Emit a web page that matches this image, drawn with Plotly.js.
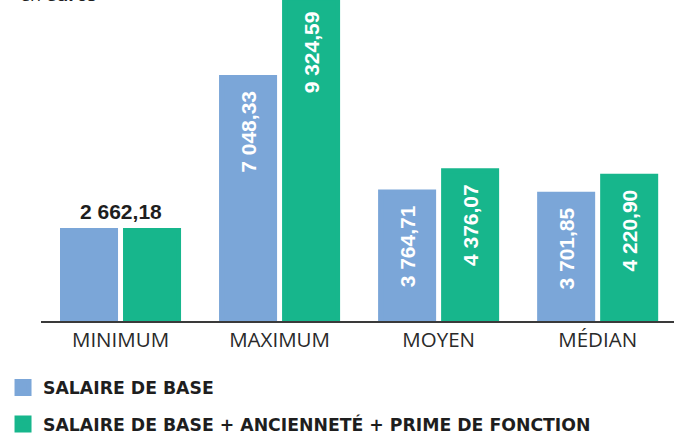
<!DOCTYPE html>
<html>
<head>
<meta charset="utf-8">
<script src="https://cdn.plot.ly/plotly-3.0.1.min.js"></script>
<style>
html,body{margin:0;padding:0;background:#fff;}
#chart{width:674px;height:434px;}
</style>
</head>
<body>
<div id="chart"></div>
<script>
var categories = ['MINIMUM', 'MAXIMUM', 'MOYEN', 'MÉDIAN'];
var salaireBase = [2662.18, 7048.33, 3764.71, 3701.85];
var salaireTotal = [2662.18, 9324.59, 4376.07, 4220.90];
var seriesNames = ['SALAIRE DE BASE', 'SALAIRE DE BASE + ANCIENNETÉ + PRIME DE FONCTION'];
var unitLabel = 'en <b>euros</b>';

var BLUE = 'rgb(123,166,216)';
var GREEN = 'rgb(23,182,140)';
var OUTLINE = 5; // same-colour outline: enlarges the legend squares

function fmt(v) {
  var parts = v.toFixed(2).split('.');
  var intPart = parts[0].replace(/\B(?=(\d{3})+(?!\d))/g, '\u00a0');
  return intPart + ',' + parts[1];
}
// first category carries one shared label above the group
function barTexts(vals) {
  return vals.map(function (v, i) { return i === 0 ? '' : fmt(v) + '\u2002'; });
}

var insideFont = {family: 'Liberation Sans, Arial, sans-serif', size: 21, color: '#ffffff', weight: 'bold'};

var traces = [
  {
    type: 'bar', name: seriesNames[0], x: categories, y: salaireBase,
    marker: {color: BLUE, line: {color: BLUE, width: OUTLINE}}, legendgroup: 'a',
    text: barTexts(salaireBase), textposition: 'inside', textangle: -90,
    insidetextanchor: 'end', insidetextfont: insideFont, hoverinfo: 'x+y'
  },
  {
    type: 'bar', name: seriesNames[1], x: categories, y: salaireTotal,
    marker: {color: GREEN, line: {color: GREEN, width: OUTLINE}}, legendgroup: 'b',
    text: barTexts(salaireTotal), textposition: 'inside', textangle: -90,
    insidetextanchor: 'end', insidetextfont: insideFont, hoverinfo: 'x+y'
  }
];

// px per euro in the reference ≈ 0.0349; outline adds OUTLINE/2 px on top,
// so the range starts that many px worth of euros above zero
var pxPerUnit = 0.0349;
var plotH = 321;
var y0 = (OUTLINE / 2) / pxPerUnit;

var layout = {
  width: 674, height: 434,
  margin: {l: 41, r: 0, t: 0, b: 113, pad: 0, autoexpand: false},
  paper_bgcolor: '#ffffff', plot_bgcolor: '#ffffff',
  barmode: 'group', bargap: 0.2075, bargroupgap: 0.1587,
  separators: ',\u00a0',
  showlegend: true,
  legend: {
    orientation: 'v', x: -0.06, xanchor: 'left', y: -0.152, yanchor: 'top',
    traceorder: 'grouped', tracegroupgap: 11,
    font: {family: 'DejaVu Sans, sans-serif', size: 17.3, color: '#1e1e1e', weight: 'bold'},
    bgcolor: 'rgba(0,0,0,0)'
  },
  xaxis: {
    type: 'category', range: [-0.5, 3.48], fixedrange: true,
    showline: true, linecolor: '#3a3a3a', linewidth: 2,
    showgrid: false, zeroline: false, ticks: '',
    ticklabelstandoff: -1,
    tickfont: {family: 'Open Sans, sans-serif', size: 20.5, color: '#2a2a2a'}
  },
  yaxis: {
    range: [y0, y0 + plotH / pxPerUnit], visible: false, showgrid: false, zeroline: false, fixedrange: true
  },
  annotations: [
    {
      xref: 'x', yref: 'y', x: categories[0], y: Math.max(salaireBase[0], salaireTotal[0]),
      text: fmt(salaireBase[0]), showarrow: false, yanchor: 'bottom', xanchor: 'center', yshift: 6,
      font: {family: 'Liberation Sans, Arial, sans-serif', size: 21, color: '#1e1e1e', weight: 'bold'}
    },
    {
      xref: 'paper', yref: 'paper', x: -0.036, y: 1, xanchor: 'left', yanchor: 'bottom', yshift: -8,
      text: unitLabel, showarrow: false,
      font: {family: 'Open Sans, sans-serif', size: 18, color: '#1e1e1e'}
    }
  ]
};

Plotly.newPlot('chart', traces, layout, {displayModeBar: false, staticPlot: true});
</script>
</body>
</html>
